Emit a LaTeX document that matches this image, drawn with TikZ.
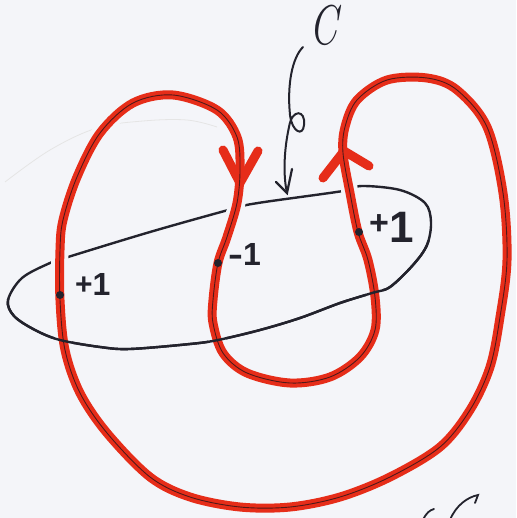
\documentclass[tikz,border=0pt]{standalone}
\usepackage{fontspec}
\newfontfamily\labfont{Liberation Sans}
\definecolor{paper}{RGB}{244,245,249}
\definecolor{marker}{RGB}{230,45,25}
\definecolor{core}{RGB}{80,25,25}
\definecolor{ink}{RGB}{35,35,45}
\begin{document}
\begin{tikzpicture}[x=1pt,y=-1pt,
  inkline/.style={ink, line width=2.4pt, line cap=round},
  halo/.style={paper, line width=17pt},
  redline/.style={marker, line width=9pt, line cap=round, line join=round},
  coreline/.style={core, line width=0.9pt},
  dotnode/.style={circle, fill=ink, inner sep=0pt, minimum size=8pt},
  labnode/.style={inner sep=0pt, anchor=base west, font=\labfont\bfseries, text=ink}]
\fill[paper] (0,0) rectangle (516,518);
\useasboundingbox (0,0) rectangle (516,518);
% faint pencil trace
\draw[black!10, line width=0.8pt] plot[smooth, tension=0.6] coordinates {(5,182) (50,150) (97,128) (143,121) (187,120) (217,127)};
% ellipse C
\draw[inkline] plot[smooth cycle, tension=0.55] coordinates {
 (8,300) (22,278) (50,263) (68,257) (150,232) (232,209) (258,203) (343,191) (362,186) (400,190) (425,203) (431,222) (427,245) (413,265) (390,287) (372,293) (340,303) (300,318) (260,330) (218,340) (190,344) (130,349) (100,347) (60,340) (35,330) (14,316)};
% red knot
\draw[halo] plot[smooth cycle, tension=0.55] coordinates {
 (240,170) (237,203) (227,237) (218,263) (213,300) (213,323) (223,353) (247,373) (290,383) (330,377) (360,357) (375,330) (375,297) (368,260) (358,232) (350,193) (343,153) (345,127) (357,100) (387,80) (427,78) (457,90) (487,127) (503,193) (507,260) (500,317) (490,367) (470,410) (440,447) (390,477) (340,497) (290,507) (240,507) (190,497) (150,477) (107,433) (80,393) (65,350) (60,300) (60,250) (63,220) (77,177) (100,133) (133,103) (173,95) (217,110) (237,137)};
\draw[redline] plot[smooth cycle, tension=0.55] coordinates {
 (240,170) (237,203) (227,237) (218,263) (213,300) (213,323) (223,353) (247,373) (290,383) (330,377) (360,357) (375,330) (375,297) (368,260) (358,232) (350,193) (343,153) (345,127) (357,100) (387,80) (427,78) (457,90) (487,127) (503,193) (507,260) (500,317) (490,367) (470,410) (440,447) (390,477) (340,497) (290,507) (240,507) (190,497) (150,477) (107,433) (80,393) (65,350) (60,300) (60,250) (63,220) (77,177) (100,133) (133,103) (173,95) (217,110) (237,137)};
\draw[redline] (223,150) -- (240,183) -- (258,151);
\draw[redline] (323,178) -- (344,151) -- (369,166);
\draw[coreline] plot[smooth cycle, tension=0.55] coordinates {
 (240,170) (237,203) (227,237) (218,263) (213,300) (213,323) (223,353) (247,373) (290,383) (330,377) (360,357) (375,330) (375,297) (368,260) (358,232) (350,193) (343,153) (345,127) (357,100) (387,80) (427,78) (457,90) (487,127) (503,193) (507,260) (500,317) (490,367) (470,410) (440,447) (390,477) (340,497) (290,507) (240,507) (190,497) (150,477) (107,433) (80,393) (65,350) (60,300) (60,250) (63,220) (77,177) (100,133) (133,103) (173,95) (217,110) (237,137)};
% lower half of ellipse passes over the knot
\begin{scope}
\clip (0,300) -- (445,238) -- (445,518) -- (0,518) -- cycle;
\draw[inkline] plot[smooth cycle, tension=0.55] coordinates {
 (8,300) (22,278) (50,263) (68,257) (150,232) (232,209) (258,203) (343,191) (362,186) (400,190) (425,203) (431,222) (427,245) (413,265) (390,287) (372,293) (340,303) (300,318) (260,330) (218,340) (190,344) (130,349) (100,347) (60,340) (35,330) (14,316)};
\end{scope}
% intersection dots
\node[dotnode] (dA) at (60,295) {};
\node[dotnode] (dB) at (218,263) {};
\node[dotnode] (dC) at (359,232) {};
% labels
\node[labnode] (lA) at (75,295) {\raisebox{1pt}{\fontsize{30}{30}\selectfont +}\fontsize{32}{32}\selectfont 1};
\node[labnode] (lB) at (228,265) {\fontsize{32}{32}\selectfont\scalebox{1.4}[1]{-}1};
\node[labnode] (lC) at (369,242) {\raisebox{8pt}{\fontsize{34}{34}\selectfont +}\fontsize{44}{44}\selectfont 1};
% label C and its pointer
\node[inner sep=0pt, text=ink] (cname) at (324,25) {\fontsize{56}{56}\selectfont\itshape\scalebox{0.72}[1]{C}};
\coordinate (cstart) at (303,47);
\coordinate (ctip) at (287,193);
\draw[ink, line width=2pt, line cap=round] (cstart) .. controls (292,58) and (287,85) .. (290,115)
  .. controls (292,132) and (303,137) .. (304,125)
  .. controls (306,110) and (292,108) .. (289,127)
  .. controls (284,150) and (283,175) .. (ctip);
\draw[ink, line width=2.2pt, line cap=round] (276,182) -- (ctip) -- (292,169);
% cut-off marks at the lower edge
\draw[ink, line width=1.8pt, line cap=round] (423,520) .. controls (426,513) and (430,510) .. (434,509);
\draw[ink, line width=1.8pt, line cap=round] (450,520) .. controls (456,505) and (468,497) .. (478,495) -- (475,503);
\end{tikzpicture}
\end{document}
